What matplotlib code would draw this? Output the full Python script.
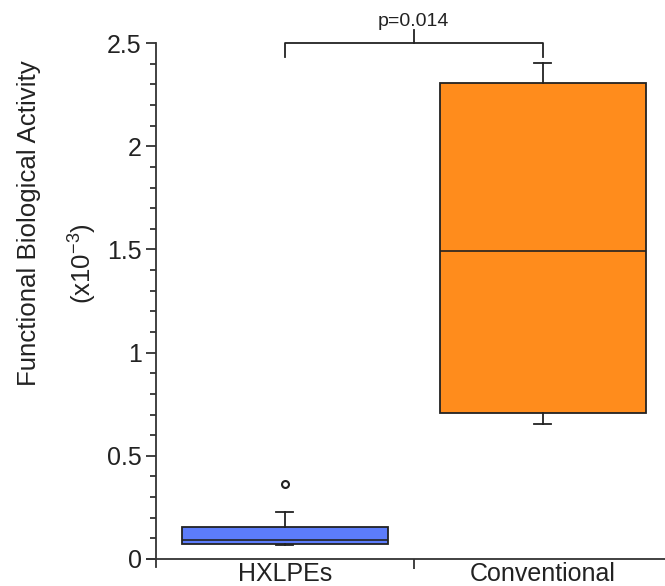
import matplotlib
matplotlib.use("Agg")
import matplotlib.pyplot as plt

plt.rcParams["font.family"] = ["Liberation Sans", "DejaVu Sans"]
plt.rcParams["mathtext.fontset"] = "custom"
plt.rcParams["mathtext.rm"] = "Liberation Sans"
plt.rcParams["mathtext.it"] = "Liberation Sans"

# Box summary statistics per group (x10^-3)
groups = ["HXLPEs", "Conventional"]
whisker_low = [0.068, 0.653]
q1 = [0.073, 0.706]
median = [0.094, 1.492]
q3 = [0.156, 2.308]
whisker_high = [0.226, 2.405]
outliers = [[0.365], []]
box_colors = ["#5c7cfa", "#ff8c1c"]
p_value_text = "p=0.014"
y_ticks = [0, 0.5, 1, 1.5, 2, 2.5]
y_tick_labels = ["0", "0.5", "1", "1.5", "2", "2.5"]

ink = "#222222"

fig = plt.figure(figsize=(6.65, 5.86), dpi=100)
ax = fig.add_axes([0.2206, 0.0324, 0.7895, 0.894])

positions = [0.5, 1.5]
stats = []
for i, name in enumerate(groups):
    stats.append(dict(label=name, whislo=whisker_low[i], q1=q1[i], med=median[i],
                      q3=q3[i], whishi=whisker_high[i], fliers=outliers[i]))

bp = ax.bxp(stats, positions=positions, widths=0.8, capwidths=0.065,
            patch_artist=True, showfliers=True,
            boxprops=dict(edgecolor=ink, linewidth=1.3),
            medianprops=dict(color=ink, linewidth=1.2),
            whiskerprops=dict(color=ink, linewidth=1.3),
            capprops=dict(color=ink, linewidth=1.3),
            flierprops=dict(marker="o", markersize=5, markerfacecolor="white",
                            markeredgecolor=ink, markeredgewidth=1.5))
for patch, c in zip(bp["boxes"], box_colors):
    patch.set_facecolor(c)

ax.set_xlim(-0.035, 2.0)
ax.set_ylim(-0.039, 2.5)

for s in ["top", "right"]:
    ax.spines[s].set_visible(False)
ax.spines["left"].set_position(("data", 0))
ax.spines["bottom"].set_position(("data", 0))
for s in ["left", "bottom"]:
    ax.spines[s].set_color("#333333")
    ax.spines[s].set_linewidth(1.3)

ax.set_yticks(y_ticks, y_tick_labels)
ax.set_yticks([v / 10 for v in range(26)], minor=True)
ax.tick_params(axis="y", which="major", direction="out", length=7, width=1.3,
               color="#333333", labelsize=18, labelcolor=ink, pad=3)
ax.tick_params(axis="y", which="minor", direction="out", length=4, width=1.3,
               color="#333333")

ax.set_xticks([1.0], [""])
ax.set_xticks(positions, groups, minor=True)
ax.tick_params(axis="x", which="major", direction="out", length=7, width=1.3,
               color="#333333")
ax.tick_params(axis="x", which="minor", length=0, labelsize=18,
               labelcolor=ink, pad=2.5)

# Significance bracket between the two groups
br_y = 2.5
leg = 0.065
ax.plot([positions[0], positions[0], positions[1], positions[1]],
        [br_y - leg, br_y, br_y, br_y - leg], color=ink, lw=1.3, clip_on=False)
ax.plot([1.0, 1.0], [br_y, br_y + 0.065], color=ink, lw=1.3, clip_on=False)
ax.text(1.0, br_y + 0.066, p_value_text, ha="center", va="bottom",
        fontsize=14, color=ink, clip_on=False)

fig.text(0.044, 0.619, "Functional Biological Activity", rotation=90,
         ha="center", va="center", fontsize=18.6, color=ink)
fig.text(0.124, 0.550, r"(x10$^{-3}$)", rotation=90,
         ha="center", va="center", fontsize=18.6, color=ink)

fig.savefig("out.png", dpi=100)
